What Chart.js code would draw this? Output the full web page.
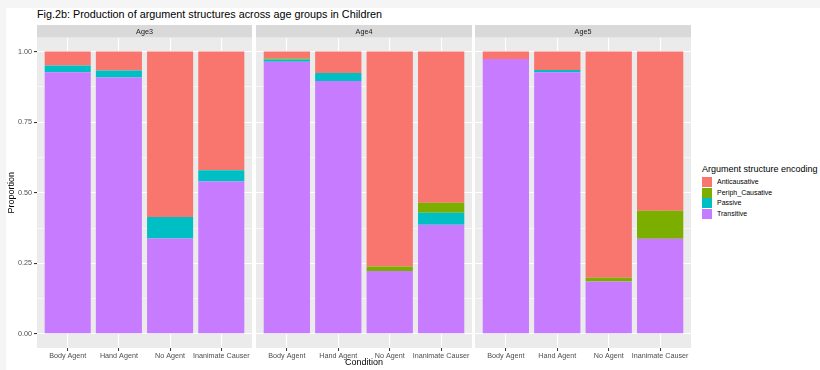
<!DOCTYPE html>
<html>
<head>
<meta charset="utf-8">
<script src="https://cdn.jsdelivr.net/npm/chart.js@4.4.1/dist/chart.umd.min.js"></script>
<style>
  html, body { margin: 0; padding: 0; background: #f5f5f5; }
  #fig { position: absolute; left: 6px; top: 8px; width: 814px; height: 362px; background: #fff; }
  #wrap { position: absolute; left: 0; top: 0; width: 820px; height: 370px; font-family: "Liberation Sans", Arial, sans-serif; }
  canvas { position: absolute; top: 0; }
  .title { position: absolute; left: 37px; top: 8px; font-size: 10.8px; color: #000; white-space: nowrap; }
  .xtitle { position: absolute; left: 37px; width: 654px; top: 357px; text-align: center; font-size: 9px; color: #000; }
  #legend { position: absolute; left: 702px; top: 164px; color: #000; }
  #legend .lt { font-size: 9px; white-space: nowrap; margin-bottom: 3px; }
  #legend .row { height: 10.5px; position: relative; }
  #legend .key { position: absolute; left: 0; top: 0; width: 10px; height: 10px; }
  #legend .lab { position: absolute; left: 15px; top: 1px; font-size: 7px; line-height: 8px; white-space: nowrap; }
</style>
</head>
<body>
<div id="fig"></div>
<div id="wrap">
  <div class="title">Fig.2b: Production of argument structures across age groups in Children</div>
  <canvas id="c0" width="252" height="370" style="left:0px"></canvas>
  <canvas id="c1" width="216" height="370" style="left:256px"></canvas>
  <canvas id="c2" width="216" height="370" style="left:475px"></canvas>
  <div class="xtitle">Condition</div>
  <div id="legend"></div>
</div>
<script>
const conditions = ['Body Agent', 'Hand Agent', 'No Agent', 'Inanimate Causer'];
const ageGroups = ['Age3', 'Age4', 'Age5'];

// proportions per age group, one entry per condition
const transitive = [
  [0.927, 0.908, 0.338, 0.540],
  [0.964, 0.896, 0.223, 0.387],
  [0.974, 0.927, 0.186, 0.337]
];
const passive = [
  [0.024, 0.025, 0.076, 0.040],
  [0.008, 0.028, 0.000, 0.042],
  [0.000, 0.008, 0.000, 0.000]
];
const periphCausative = [
  [0.000, 0.000, 0.000, 0.000],
  [0.004, 0.000, 0.016, 0.036],
  [0.000, 0.000, 0.013, 0.099]
];
const anticausative = [
  [0.049, 0.067, 0.586, 0.420],
  [0.024, 0.076, 0.761, 0.535],
  [0.026, 0.065, 0.801, 0.564]
];

const yTicks = [0, 0.25, 0.5, 0.75, 1];
const yMinor = [0.125, 0.375, 0.625, 0.875];

// stacking order, bottom first
const series = [
  { name: 'Transitive', values: transitive, color: '#C77CFF' },
  { name: 'Passive', values: passive, color: '#00BFC4' },
  { name: 'Periph_Causative', values: periphCausative, color: '#7CAE00' },
  { name: 'Anticausative', values: anticausative, color: '#F8766D' }
];

const FONT = '"Liberation Sans", Arial, sans-serif';

const panelBg = {
  id: 'panelBg',
  beforeDraw(chart) {
    const { ctx, chartArea: a } = chart;
    ctx.save();
    ctx.fillStyle = '#EBEBEB';
    ctx.fillRect(a.left, a.top, a.right - a.left, a.bottom - a.top);
    ctx.restore();
  }
};

const strip = {
  id: 'strip',
  afterDraw(chart, args, opts) {
    const { ctx, chartArea: a } = chart;
    ctx.save();
    ctx.fillStyle = '#D9D9D9';
    ctx.fillRect(a.left, 25, a.right - a.left, a.top - 25);
    ctx.fillStyle = '#1A1A1A';
    ctx.font = '7.2px ' + FONT;
    ctx.textAlign = 'center';
    ctx.textBaseline = 'middle';
    ctx.fillText(opts.text, (a.left + a.right) / 2, (25 + a.top) / 2 + 0.5);
    ctx.restore();
  }
};

function makeChart(id, g) {
  const first = g === 0;
  const datasets = series.map(s => ({
    label: s.name,
    data: s.values[g].map((v, i) => ({ x: i + 1, y: v })),
    backgroundColor: s.color,
    borderWidth: 0,
    barPercentage: 0.9,
    categoryPercentage: 1
  }));

  return new Chart(document.getElementById(id), {
    type: 'bar',
    data: { datasets: datasets },
    plugins: [panelBg, strip],
    options: {
      responsive: false,
      animation: false,
      layout: { padding: { top: 37.5, bottom: 0, left: 0, right: 0 } },
      plugins: {
        legend: { display: false },
        tooltip: { enabled: false },
        strip: { text: ageGroups[g] }
      },
      scales: {
        x: {
          type: 'linear',
          stacked: true,
          offset: false,
          min: 0.4,
          max: 4.6,
          afterBuildTicks: scale => { scale.ticks = conditions.map((c, i) => ({ value: i + 1 })); },
          afterFit: scale => { scale.height = 22; },
          border: { display: false },
          grid: {
            offset: false,
            color: '#FFFFFF',
            lineWidth: 1.1,
            tickLength: 3,
            tickColor: '#333333',
            tickWidth: 1
          },
          ticks: {
            autoSkip: false,
            maxRotation: 0,
            padding: 1,
            color: '#4D4D4D',
            font: { family: FONT, size: 7.2 },
            callback: v => conditions[v - 1]
          }
        },
        y: {
          stacked: true,
          min: -0.05,
          max: 1.05,
          afterBuildTicks: scale => {
            scale.ticks = yTicks.concat(yMinor).sort((a, b) => a - b).map(v => ({ value: v }));
          },
          afterFit: scale => { scale.width = first ? 37 : 0; },
          border: { display: false },
          grid: {
            drawTicks: first,
            color: '#FFFFFF',
            lineWidth: c => yTicks.includes(c.tick.value) ? 1.1 : 0.55,
            tickLength: 3,
            tickColor: c => yTicks.includes(c.tick.value) ? '#333333' : 'rgba(0,0,0,0)'
          },
          title: {
            display: first,
            text: 'Proportion',
            color: '#000',
            font: { family: FONT, size: 9 },
            padding: { top: 6, bottom: 0 }
          },
          ticks: {
            display: first,
            autoSkip: false,
            padding: 2,
            color: '#4D4D4D',
            font: { family: FONT, size: 7.2 },
            callback: v => yTicks.includes(v) ? v.toFixed(2) : ''
          }
        }
      }
    }
  });
}

ageGroups.forEach((g, i) => makeChart('c' + i, i));

// legend, top entry is the top of the stack
const legend = document.getElementById('legend');
legend.innerHTML = '<div class="lt">Argument structure encoding</div>' +
  series.slice().reverse().map(s =>
    '<div class="row"><div class="key" style="background:' + s.color + '"></div>' +
    '<div class="lab">' + s.name + '</div></div>').join('');
</script>
</body>
</html>
